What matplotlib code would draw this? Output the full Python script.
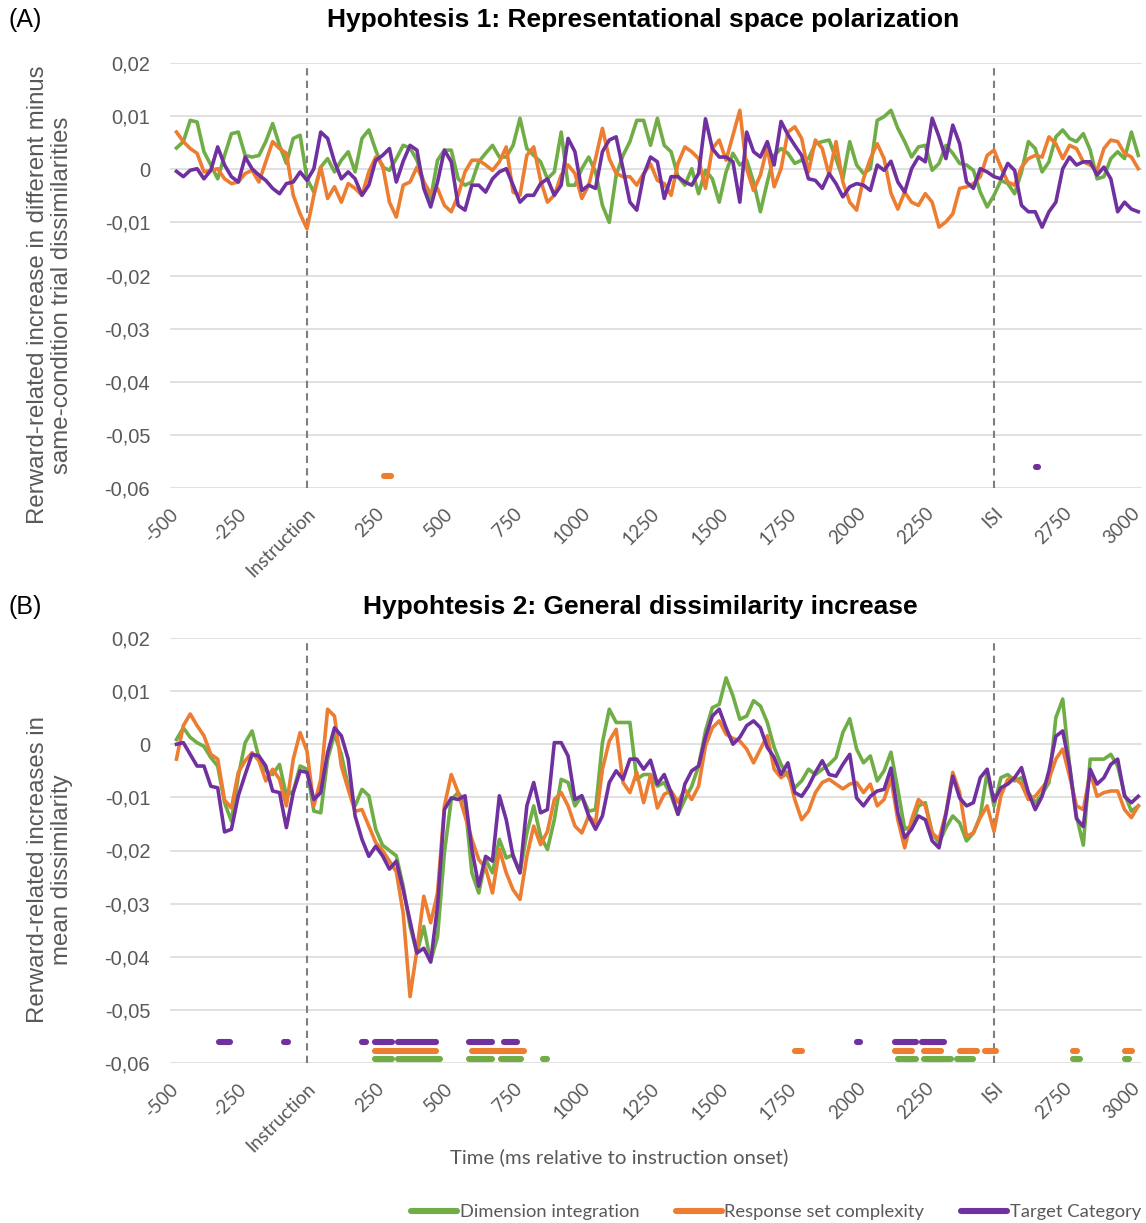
import numpy as np
import matplotlib
matplotlib.use("Agg")
import matplotlib.pyplot as plt
from matplotlib.ticker import FuncFormatter
from matplotlib.lines import Line2D

# ---------------------------------------------------------------- data
# time axis (ms relative to instruction onset)
time_ms = np.arange(-475, 3026, 25)

# tick positions and labels of the time axis
tick_pos = list(range(-500, 3001, 250))
tick_lbl = ["-500", "-250", "Instruction", "250", "500", "750", "1000", "1250",
            "1500", "1750", "2000", "2250", "ISI", "2750", "3000"]

series_names = ["Dimension integration", "Response set complexity", "Target Category"]

# Hypothesis 1 (values in units of 1e-3)
h1_dimension = [
    4.0, 5.2, 9.2, 8.9, 3.3, 0.8, -1.8, 2.6, 6.7, 7.0, 2.6, 2.3, 2.6, 5.2, 8.6, 4.5, 1.1, 5.8, 6.4,
    -1.8, -4.3, 0.4, 2.0, -0.5, 1.7, 3.3, -0.5, 5.8, 7.4, 3.6, 0.4, -0.2, 2.0, 4.5,
    4.0, 1.7, -2.4, -5.5, 1.7, 3.6, 3.6, -1.8, -3.0, -2.4, 1.4, 3.0, 4.5, 2.3, 2.3, 4.5,
    9.6, 3.9, 2.6, 1.4, -1.8, -0.5, 7.0, -3.0, -3.0, 0.1, 2.3, -0.5, -6.8, -10.0, -1.1, 2.6,
    5.2, 9.2, 9.2, 4.5, 9.6, 4.5, 3.3, -1.4, -3.0, 0.1, -4.6, -0.2, -1.8, -6.2, -0.5, 3.0,
    0.8, 1.7, -2.4, -8.0, -2.4, 2.6, 3.9, 3.0, 1.1, 1.7, 2.0, 4.8, 5.2, 5.5, 2.0, -1.8,
    5.2, 0.8, -0.8, 0.1, 9.2, 9.9, 11.1, 7.7, 5.2, 2.3, 4.2, 4.5, -0.2, 1.1, 4.5, 3.0,
    1.1, 0.8, -0.2, -4.3, -7.1, -4.9, -2.1, -2.7, -4.6, -0.5, 5.2, 3.9, -0.5, 1.4, 6.1,
    7.4, 5.8, 5.2, 6.7, 3.6, -1.8, -1.4, 2.0, 3.3, 2.0, 7.0, 2.6]
h1_response = [
    7.0, 5.2, 3.9, 3.0, -0.5, -0.2, 0.1, -1.8, -2.7, -2.4, -0.8, -0.2, -2.4, 1.4, 5.2, 3.9, 3.0, -4.9, -8.4,
    -11.2, -4.9, 0.4, -5.5, -3.3, -6.2, -2.7, -3.6, -4.9, -0.5, 2.3, 0.8, -6.2, -9.0, -3.0,
    -2.4, 0.4, -2.4, -4.6, -3.6, -6.8, -8.0, -4.9, -0.5, 1.7, 1.7, 0.8, -0.2, 1.4, 4.2, -4.3,
    -4.9, 2.6, 4.2, -2.1, -6.2, -4.9, -1.1, 0.8, -0.8, -5.5, -3.0, 2.0, 7.7, 2.0, -0.8, -1.4,
    -1.4, -3.0, -0.8, 1.0, -2.1, -2.7, -4.9, 1.1, 4.2, 3.3, 2.0, -3.6, 3.9, 5.5, 1.7, 6.4,
    11.1, 0.1, -4.0, -1.1, 4.2, -3.3, 0.1, 7.0, 8.0, 5.8, -0.5, 5.5, 3.9, -1.1, 5.2, -2.4,
    -6.2, -7.7, -1.8, 2.0, 4.8, 2.0, -4.5, -7.5, -4.3, -6.2, -6.8, -4.6, -6.2, -10.9, -9.9, -8.4,
    -3.6, -3.3, -2.7, -1.4, 2.6, 3.6, 0.4, -2.4, -3.0, 0.4, 2.0, 2.6, 2.3, 6.1,
    4.8, 2.0, 4.5, 3.9, 1.4, 0.8, -0.2, 3.9, 5.5, 5.2, 3.0, 2.3, 0.1]
h1_target = [
    -0.4, -1.4, -0.2, 0.1, -1.8, -0.2, 4.2, 0.8, -1.4, -2.4, 2.3, 0.1, -1.1, -2.1, -3.6, -4.6, -2.7, -2.4, -0.5,
    -2.1, 0.1, 7.0, 5.8, 1.4, -1.8, -0.5, -1.8, -4.9, -3.0, 1.7, 2.6, 3.9, -2.4, 1.5,
    4.5, 3.6, -3.6, -7.1, -2.4, 3.6, 1.4, -6.8, -7.7, -3.0, -3.0, -4.3, -1.8, -0.5, 0.1, -3.0,
    -6.2, -4.9, -4.9, -2.7, -1.8, -4.9, -3.0, 5.8, 3.3, -4.0, -3.0, -3.6, 3.3, 5.5, 6.1, 0.1,
    -6.2, -7.7, -1.1, 2.3, 1.4, -5.5, -1.4, -1.4, -2.4, -3.0, -0.8, 9.5, 3.9, 2.3, 2.3, 1.4,
    -6.2, 7.0, 3.3, 2.3, 5.2, 0.8, 9.0, 6.5, 4.5, 2.6, -1.8, -2.1, -3.6, -0.8, -2.7, -5.2,
    -3.3, -2.7, -3.0, -4.0, 0.8, -0.2, 1.5, -2.4, -4.3, 0.1, 2.3, 1.4, 9.6, 6.1, 2.0, 8.3,
    4.8, -2.4, -3.6, 0.1, -0.5, -1.4, -1.8, 1.1, -0.2, -6.8, -8.0, -8.0, -10.9, -8.0, -6.2,
    0.1, 2.3, 0.8, 1.4, 1.4, -1.1, 0.4, -1.8, -8.0, -6.2, -7.5, -8.0]

# Hypothesis 2 (values in units of 1e-3)
h2_dimension = [
    0.9, 3.1, 1.3, 0.3, -0.4, -2.5, -4.1, -11.0, -14.5, -6.0, 0.3, 2.5, -2.5, -5.0, -5.7, -3.8, -9.7, -8.8, -4.1,
    -4.7, -12.6, -12.9, -2.8, 1.9, -1.9, -7.9, -11.6, -8.5, -9.7, -16.0, -19.0, -20.0, -21.0, -26.7,
    -34.3, -39.3, -34.3, -40.9, -36.2, -20.4, -10.4, -9.1, -11.0, -24.2, -28.0, -21.7, -24.2, -17.9, -21.4, -20.8,
    -24.2, -16.7, -11.6, -17.3, -19.8, -14.2, -6.6, -7.2, -11.6, -9.7, -12.6, -12.3, 0.3, 6.6, 4.1, 4.1,
    4.1, -6.6, -5.7, -5.7, -7.9, -7.2, -9.7, -13.2, -10.4, -7.9, -4.1, 2.5, 6.9, 7.5, 12.5, 9.1,
    4.7, 5.3, 8.2, 7.2, 4.1, -0.6, -3.8, -6.0, -8.2, -6.9, -4.7, -5.7, -4.7, -3.8, -2.5, 2.2,
    4.8, -0.9, -3.5, -2.2, -6.9, -5.0, -1.5, -8.5, -16.0, -15.4, -11.6, -11.0, -16.7, -18.6, -15.7, -13.5,
    -14.8, -18.2, -16.7, -13.5, -5.3, -11.6, -6.3, -5.7, -6.9, -6.3, -9.1, -11.0, -9.4, -7.2,
    5.0, 8.5, -4.1, -13.5, -19.0, -2.8, -2.8, -2.8, -1.9, -4.1, -9.4, -12.6, -11.6]
h2_response = [
    -2.8, 3.5, 5.7, 3.5, 1.6, -1.9, -2.8, -10.5, -12.0, -5.3, -3.1, -1.6, -3.1, -6.9, -4.7, -6.6, -11.6, -2.8, 2.2,
    -1.3, -11.6, -6.6, 6.6, 5.3, -4.1, -8.5, -12.6, -12.3, -15.4, -18.5, -20.0, -22.0, -24.0, -31.8,
    -47.5, -38.7, -28.6, -33.6, -28.0, -11.6, -5.7, -9.1, -13.5, -17.9, -21.7, -23.3, -28.0, -19.8, -24.2, -27.4,
    -29.2, -21.1, -15.4, -18.9, -16.4, -10.4, -9.1, -11.6, -15.4, -16.7, -13.5, -14.8, -4.7, 0.6, 2.8, -7.2,
    -9.1, -5.3, -11.0, -5.8, -12.0, -9.4, -8.8, -10.9, -8.5, -10.4, -7.9, -0.3, 3.1, 4.4, 1.9, 1.1,
    0.6, -0.9, -3.5, -0.9, 1.6, -4.7, -6.3, -5.3, -10.4, -14.2, -12.6, -9.1, -7.2, -6.6, -7.5, -8.4,
    -7.5, -7.2, -9.1, -7.5, -11.6, -10.4, -6.5, -14.2, -19.5, -14.2, -10.4, -11.6, -16.7, -17.9, -12.9, -5.3,
    -9.1, -17.3, -16.7, -13.8, -11.6, -16.4, -9.7, -6.6, -6.3, -7.5, -10.4, -9.8, -8.2, -6.6,
    -2.8, -0.9, -6.0, -11.6, -12.3, -5.3, -9.8, -9.1, -8.8, -8.8, -12.3, -13.8, -11.6]
h2_target = [
    0.0, 0.3, -1.9, -4.1, -4.1, -7.9, -8.2, -16.5, -16.0, -9.7, -5.7, -1.9, -2.2, -4.1, -8.8, -9.1, -15.7, -9.1, -5.0,
    -5.3, -10.4, -9.1, -1.6, 3.1, 1.6, -2.8, -13.5, -17.9, -21.1, -19.2, -21.0, -23.5, -22.0, -27.4,
    -33.3, -39.3, -38.4, -41.0, -30.5, -12.3, -10.1, -10.4, -9.7, -19.8, -26.7, -21.1, -22.0, -9.7, -14.2, -21.1,
    -24.2, -11.6, -7.2, -12.9, -12.3, 0.3, 0.3, -2.2, -10.4, -9.7, -13.5, -16.0, -13.5, -7.2, -5.0, -6.6,
    -2.8, -2.8, -4.7, -3.0, -7.5, -5.7, -9.1, -13.2, -7.5, -5.0, -4.1, 1.3, 5.3, 6.6, 3.1, 0.0,
    1.3, 3.5, 4.4, 3.1, -0.6, -2.5, -5.7, -3.5, -9.1, -9.8, -7.9, -5.3, -3.1, -5.7, -6.0, -3.8,
    -1.9, -10.1, -11.6, -9.8, -8.8, -8.5, -4.5, -12.9, -17.6, -16.0, -13.5, -14.2, -18.2, -19.5, -13.2, -6.0,
    -10.1, -11.6, -11.0, -6.3, -4.7, -10.7, -8.2, -7.5, -6.3, -4.4, -9.1, -12.3, -9.8, -5.0,
    1.5, 2.5, -4.1, -14.0, -15.5, -4.7, -7.5, -6.3, -3.8, -2.8, -9.8, -11.0, -9.8]

# significant time windows (start, end in ms) shown as markers below the traces
h1_sig = {
    "Response set complexity": [(280, 304)],
    "Target Category": [(2652, 2661)],
}
h2_sig = {
    "Target Category": [(-319, -280), (-82, -69), (200, 213), (248, 308), (330, 471), (589, 672),
                        (718, 765), (2000, 2012), (2141, 2215), (2237, 2318)],
    "Response set complexity": [(248, 471), (601, 789), (1777, 1802), (2141, 2200), (2247, 2308),
                                (2377, 2437), (2469, 2508), (2789, 2803), (2977, 3001)],
    "Dimension integration": [(248, 308), (330, 484), (589, 672), (706, 777), (858, 872), (2152, 2215),
                              (2247, 2342), (2364, 2425), (2789, 2813), (2977, 2992)],
}
sig_level = {"Target Category": -0.0561, "Response set complexity": -0.0577,
             "Dimension integration": -0.0593}

# ---------------------------------------------------------------- style
colors = {"Dimension integration": "#70ad47",
          "Response set complexity": "#ed7d31",
          "Target Category": "#7030a0"}
grey_text = "#595959"
grid_col = "#d9d9d9"
num_font = "Liberation Sans"
cal_font = "Lato"

W, H = 1146, 1223
fig = plt.figure(figsize=(W / 100, H / 100), dpi=100)


def fx(px):
    return px / W


def fy(py):
    return 1 - py / H


x_left, x_right = 169.6, 1142.4
axA = fig.add_axes([fx(x_left), fy(488), fx(x_right - x_left), (488 - 63) / H])
axB = fig.add_axes([fx(x_left), fy(1063), fx(x_right - x_left), (1063 - 638) / H])


def comma_fmt(v, pos):
    if abs(v) < 1e-12:
        return "0"
    return f"{v:.2f}".replace(".", ",")


def style_axis(ax, traces, sig):
    ax.set_xlim(-500, 3040)
    ax.set_ylim(-0.06, 0.02)
    yt = np.round(np.arange(-0.06, 0.0201, 0.01), 2)
    ax.set_yticks(yt)
    ax.yaxis.set_major_formatter(FuncFormatter(comma_fmt))
    for y in yt:
        ax.axhline(y, color=grid_col, lw=1.1, zorder=0)
    for s in ax.spines.values():
        s.set_visible(False)
    ax.tick_params(axis="y", length=0, pad=14, labelsize=14.5, labelcolor=grey_text)
    ax.tick_params(axis="x", length=0, pad=12)
    for lab in ax.get_yticklabels():
        lab.set_fontfamily(num_font)
    ax.set_xticks(tick_pos)
    ax.set_xticklabels(tick_lbl, rotation=45, ha="right", va="top",
                       rotation_mode="anchor", fontsize=13.5, color=grey_text,
                       fontfamily=cal_font)
    # event markers: instruction onset and inter-stimulus interval
    for xv in (0, 2500):
        ax.plot([xv, xv], [-0.06, 0.019], color="#7f7f7f", lw=1.5,
                linestyle=(0, (3.5, 2.5)), zorder=1)
    for name, vals in traces:
        ax.plot(time_ms, np.asarray(vals) * 1e-3, color=colors[name], lw=2.6,
                solid_joinstyle="round", zorder=3)
    for name, spans in sig.items():
        for s, e in spans:
            ax.plot([s, e], [sig_level[name]] * 2, color=colors[name], lw=4.4,
                    solid_capstyle="round", zorder=4)


style_axis(axA, [("Dimension integration", h1_dimension),
                 ("Response set complexity", h1_response),
                 ("Target Category", h1_target)], h1_sig)
style_axis(axB, [("Dimension integration", h2_dimension),
                 ("Response set complexity", h2_response),
                 ("Target Category", h2_target)], h2_sig)

# titles, panel letters and axis labels
fig.text(fx(643), fy(20), "Hypohtesis 1: Representational space polarization",
         ha="center", va="center", fontsize=19, fontweight="bold", fontfamily=num_font)
fig.text(fx(640), fy(607), "Hypohtesis 2: General dissimilarity increase",
         ha="center", va="center", fontsize=19, fontweight="bold", fontfamily=num_font)
fig.text(fx(8), fy(20), "(A)", ha="left", va="center", fontsize=18, fontfamily=num_font)
fig.text(fx(8), fy(607), "(B)", ha="left", va="center", fontsize=18, fontfamily=num_font)

fig.text(fx(50), fy(295),
         "Rerward-related increase in different minus\nsame-condition trial dissimilarities",
         rotation=90, ha="center", va="center", multialignment="center",
         fontsize=17.3, color=grey_text, fontfamily=num_font, linespacing=1.15)
fig.text(fx(50), fy(870), "Rerward-related increases in\nmean dissimilarity",
         rotation=90, ha="center", va="center", multialignment="center",
         fontsize=17.3, color=grey_text, fontfamily=num_font, linespacing=1.15)

fig.text(fx(619), fy(1157), "Time (ms relative to instruction onset)",
         ha="center", va="center", fontsize=14.7, color=grey_text, fontfamily=cal_font)

handles = [Line2D([0], [0], color=colors[n], lw=4.4, solid_capstyle="round") for n in series_names]
leg = fig.legend(handles, series_names, loc="center", bbox_to_anchor=(fx(776), fy(1212)),
                 ncol=3, frameon=False, handlelength=2.5, handletextpad=0.15,
                 columnspacing=2.0, prop={"family": cal_font, "size": 13.2})
for t in leg.get_texts():
    t.set_color(grey_text)

fig.savefig("out.png", dpi=100)
